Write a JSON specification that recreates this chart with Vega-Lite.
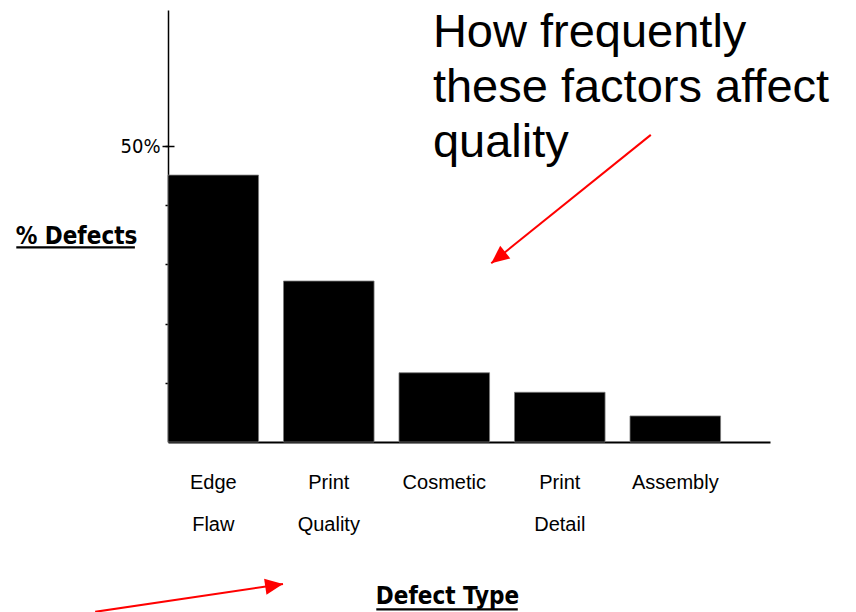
{
  "$schema": "https://vega.github.io/schema/vega-lite/v6.json",
  "width": 602,
  "height": 432,
  "autosize": {"type": "none"},
  "padding": {"left": 168, "top": 10, "right": 86, "bottom": 170},
  "background": "white",
  "config": {"view": {"stroke": null}},
  "datasets": {
    "defects": [
      {"type": "Edge Flaw", "pct": 45.1},
      {"type": "Print Quality", "pct": 27.2},
      {"type": "Cosmetic", "pct": 11.7},
      {"type": "Print Detail", "pct": 8.4},
      {"type": "Assembly", "pct": 4.4}
    ],
    "notes": [
      {"text": "How frequently\nthese factors affect\nquality", "ax": 44.0, "ay": 66.7}
    ],
    "arrows": [
      {"arrow": "frequency", "ax": 80.2, "ay": 51.9, "ax2": 53.7, "ay2": 30.2},
      {"arrow": "type", "ax": -12.1, "ay": -28.7, "ax2": 19.1, "ay2": -24.0}
    ],
    "underlines": [
      {"title": "% Defects", "ax": -25.2, "ax2": -5.5, "ay": 32.9},
      {"title": "Defect Type", "ax": 34.6, "ax2": 58.1, "ay": -28.3}
    ]
  },
  "layer": [
    {
      "data": {"name": "defects"},
      "mark": {"type": "bar", "color": "black", "stroke": "#7a7a7a", "strokeWidth": 0.8},
      "encoding": {
        "x": {
          "field": "type",
          "type": "nominal",
          "sort": null,
          "scale": {"paddingInner": 0.216, "paddingOuter": 0.214, "align": 0},
          "axis": {
            "labelExpr": "split(datum.label, ' ')",
            "labelAngle": 0,
            "labelFont": "Liberation Sans",
            "labelFontSize": 20,
            "labelColor": "black",
            "labelBaseline": "top",
            "labelPadding": 30,
            "labelLineHeight": 42,
            "ticks": false,
            "domainColor": "black",
            "domainWidth": 2,
            "title": "Defect Type",
            "titleFont": "DejaVu Sans Condensed",
            "titleFontWeight": "bold",
            "titleFontSize": 24,
            "titleColor": "black",
            "titleAlign": "center",
            "titleBaseline": "alphabetic",
            "titleX": 279,
            "titleY": 161
          }
        },
        "y": {
          "field": "pct",
          "type": "quantitative",
          "scale": {"domain": [0, 73], "nice": false, "zero": true},
          "axis": {
            "values": [10, 20, 30, 40, 50],
            "labelExpr": "datum.value === 50 ? '50%' : ''",
            "labelFont": "DejaVu Sans Condensed",
            "labelFontSize": 20,
            "labelColor": "black",
            "labelPadding": 5,
            "tickSize": 3,
            "tickWidth": 1.5,
            "tickColor": "black",
            "domainColor": "black",
            "domainWidth": 1.5,
            "grid": false,
            "title": "% Defects",
            "titleFont": "DejaVu Sans Condensed",
            "titleFontWeight": "bold",
            "titleFontSize": 24,
            "titleColor": "black",
            "titleAngle": 0,
            "titleAlign": "center",
            "titleBaseline": "alphabetic",
            "titleX": -92,
            "titleY": 233
          }
        }
      }
    },
    {
      "layer": [
        {
          "data": {"name": "notes"},
          "mark": {
            "type": "text",
            "align": "left",
            "baseline": "alphabetic",
            "font": "Liberation Sans",
            "fontSize": 47,
            "lineHeight": 55,
            "lineBreak": "\n",
            "color": "black"
          },
          "encoding": {
            "x": {"field": "ax", "type": "quantitative", "scale": {"domain": [0, 100], "nice": false}, "axis": null},
            "y": {
              "field": "ay",
              "type": "quantitative",
              "axis": {
                "orient": "left",
                "offset": -6,
                "values": [50],
                "labels": false,
                "domain": false,
                "grid": false,
                "tickSize": 12,
                "tickWidth": 1.5,
                "tickColor": "black",
                "title": null
              }
            },
            "text": {"field": "text", "type": "nominal"}
          }
        },
        {
          "data": {"name": "underlines"},
          "mark": {"type": "rule", "color": "black", "strokeWidth": 2.2},
          "encoding": {
            "x": {"field": "ax", "type": "quantitative"},
            "y": {"field": "ay", "type": "quantitative"},
            "x2": {"field": "ax2"}
          }
        },
        {
          "data": {"name": "arrows"},
          "mark": {"type": "rule", "color": "#ff0000", "strokeWidth": 2},
          "encoding": {
            "x": {"field": "ax", "type": "quantitative"},
            "y": {"field": "ay", "type": "quantitative"},
            "x2": {"field": "ax2"},
            "y2": {"field": "ay2"}
          }
        },
        {
          "data": {"name": "arrows"},
          "transform": [{"filter": "datum.arrow === 'frequency'"}],
          "mark": {"type": "point", "shape": "M0,0L-0.9,2L0.9,2Z", "filled": true, "color": "#ff0000", "opacity": 1, "size": 320, "angle": 231.3},
          "encoding": {
            "x": {"field": "ax2", "type": "quantitative"},
            "y": {"field": "ay2", "type": "quantitative"}
          }
        },
        {
          "data": {"name": "arrows"},
          "transform": [{"filter": "datum.arrow === 'type'"}],
          "mark": {"type": "point", "shape": "M0,0L-0.9,2L0.9,2Z", "filled": true, "color": "#ff0000", "opacity": 1, "size": 320, "angle": 81.5},
          "encoding": {
            "x": {"field": "ax2", "type": "quantitative"},
            "y": {"field": "ay2", "type": "quantitative"}
          }
        }
      ]
    }
  ],
  "resolve": {"scale": {"x": "independent"}, "axis": {"y": "independent"}}
}
